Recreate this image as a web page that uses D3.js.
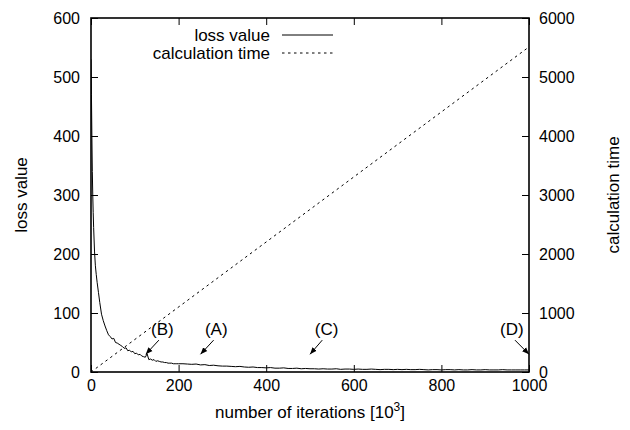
<!DOCTYPE html>
<html>
<head>
<meta charset="utf-8">
<script src="https://cdn.jsdelivr.net/npm/d3@7"></script>
<style>
    body { margin: 0; background: #fff; }
    text { font-family: "Liberation Sans", Arial, sans-serif; fill: #000; }
</style>
</head>
<body>
<script>
//loss value curve, iterations in 10^3
var lossIter = [0, 1, 2, 3, 4, 5, 6, 8, 10, 12, 14, 17, 20, 24, 28, 32, 36, 40, 44, 48,
    52, 56, 60, 64, 68, 72, 76, 80, 84, 88, 92, 96, 100, 104, 108, 112, 116, 120, 124, 128,
    132, 136, 140, 144, 148, 152, 156, 160, 164, 168, 172, 176, 180, 184, 188, 192, 196, 200,
    210, 220, 230, 240, 250, 260, 270, 280, 290, 300, 310, 320, 330, 340, 350, 360, 370, 380,
    390, 400, 410, 420, 430, 440, 450, 460, 470, 480, 490, 500, 510, 520, 530, 540, 550, 560,
    570, 580, 590, 600, 610, 620, 630, 640, 650, 660, 670, 680, 690, 700, 710, 720, 730, 740,
    750, 760, 770, 780, 790, 800, 810, 820, 830, 840, 850, 860, 870, 880, 890, 900, 910, 920,
    930, 940, 950, 960, 970, 980, 990, 1000];
var lossValue = [530, 470, 400, 340, 300, 270, 245, 205, 180, 165, 152, 135, 118, 98, 87, 78, 70, 63, 60, 56,
    57, 50, 49, 47, 45, 43, 40, 41, 36, 37, 34, 35, 31, 32, 29, 30, 27, 26, 25, 31,
    21, 22, 20, 21, 18, 19, 18, 17, 17, 16, 16, 15, 15, 15, 14, 14, 14, 14,
    14, 13.5, 13, 13.5, 12, 12.5, 11, 11.5, 10.5, 10, 10, 9.5, 9, 9.5, 8.5, 8, 8.5, 7.5,
    7.5, 7, 7.5, 6.5, 6.5, 7, 6, 6, 6.5, 5.5, 6, 5.5, 5.5, 5, 5.5, 5, 5, 5.5,
    4.5, 5, 5, 4.5, 5, 4.5, 4.5, 5, 4.5, 4, 4.5, 4.5, 4, 4.5, 4, 4.5, 4, 4,
    4.5, 4, 3.5, 4, 4, 3.5, 4, 4, 3.5, 4, 3.5, 3.5, 4, 3.5, 3.5, 4, 3.5, 3.5,
    3.5, 4, 3.5, 3.5, 3.5, 3.5, 3.5, 3.5];

//calculation time line
var timeIter = [0, 1000];
var timeValue = [0, 5510];

//tick labels
var xTicks = [0, 200, 400, 600, 800, 1000];
var yTicks = [0, 100, 200, 300, 400, 500, 600];
var y2Ticks = [0, 1000, 2000, 3000, 4000, 5000, 6000];

//annotations: label position and arrow from/to in data units
var noteLabels = ["(B)", "(A)", "(C)", "(D)"];
var noteLabelX = [163, 286, 538, 961];
var noteArrowFrom = [[155, 54], [280, 54], [528, 54], [968, 54]];
var noteArrowTo = [[125, 30], [250, 30], [500, 30], [1000, 30]];

var seriesNames = ["loss value", "calculation time"];

window.onload = drawChart();

function drawChart(){

    var width = 630,
        height = 430;

    var plot = {left: 91, right: 529, top: 18, bottom: 372};
    var fontSize = 17;

    var svg = d3.select("body")
        .append("svg")
        .attr("width", width)
        .attr("height", height);

    //scales
    var x = d3.scaleLinear().domain([0, 1000]).range([plot.left, plot.right]);
    var y = d3.scaleLinear().domain([0, 600]).range([plot.bottom, plot.top]);
    var y2 = d3.scaleLinear().domain([0, 6000]).range([plot.bottom, plot.top]);

    //arrow head
    svg.append("defs").append("marker")
        .attr("id", "head")
        .attr("viewBox", "0 0 10 10")
        .attr("refX", 10)
        .attr("refY", 5)
        .attr("markerWidth", 7)
        .attr("markerHeight", 7)
        .attr("markerUnits", "userSpaceOnUse")
        .attr("orient", "auto")
        .append("path")
        .attr("d", "M0,1 L10,5 L0,9 Z")
        .attr("fill", "#000");

    svg.append("clipPath")
        .attr("id", "clip")
        .append("rect")
        .attr("x", plot.left)
        .attr("y", plot.top)
        .attr("width", plot.right - plot.left)
        .attr("height", plot.bottom - plot.top);

    //axes with inward ticks
    var fmt = d3.format("d");

    svg.append("g")
        .attr("transform", "translate(0," + plot.bottom + ")")
        .call(d3.axisBottom(x).tickValues(xTicks).tickFormat(fmt).tickSize(-7).tickPadding(8))
        .call(styleAxis);

    svg.append("g")
        .attr("transform", "translate(0," + plot.top + ")")
        .call(d3.axisTop(x).tickValues(xTicks).tickSize(-7).tickFormat(""))
        .call(styleAxis);

    svg.append("g")
        .attr("transform", "translate(" + plot.left + ",0)")
        .call(d3.axisLeft(y).tickValues(yTicks).tickFormat(fmt).tickSize(-7).tickPadding(11))
        .call(styleAxis);

    svg.append("g")
        .attr("transform", "translate(" + plot.right + ",0)")
        .call(d3.axisRight(y2).tickValues(y2Ticks).tickFormat(fmt).tickSize(-7).tickPadding(10))
        .call(styleAxis);

    //lines
    var lossData = lossIter.map(function(d, i){ return [d, lossValue[i]]; });
    var timeData = timeIter.map(function(d, i){ return [d, timeValue[i]]; });

    svg.append("path")
        .datum(lossData)
        .attr("clip-path", "url(#clip)")
        .attr("fill", "none")
        .attr("stroke", "#000")
        .attr("stroke-width", 1)
        .attr("d", d3.line().x(function(d){ return x(d[0]); }).y(function(d){ return y(d[1]); }));

    svg.append("path")
        .datum(timeData)
        .attr("clip-path", "url(#clip)")
        .attr("fill", "none")
        .attr("stroke", "#000")
        .attr("stroke-width", 1)
        .attr("stroke-dasharray", "2.5,3.5")
        .attr("d", d3.line().x(function(d){ return x(d[0]); }).y(function(d){ return y2(d[1]); }));

    //border
    svg.append("rect")
        .attr("x", plot.left)
        .attr("y", plot.top)
        .attr("width", plot.right - plot.left)
        .attr("height", plot.bottom - plot.top)
        .attr("fill", "none")
        .attr("stroke", "#000")
        .attr("stroke-width", 1.6);

    //annotations
    noteLabels.forEach(function(label, i){
        svg.append("text")
            .attr("x", x(noteLabelX[i]))
            .attr("y", y(73) + 6)
            .attr("text-anchor", "middle")
            .attr("font-size", fontSize)
            .text(label);
        svg.append("line")
            .attr("x1", x(noteArrowFrom[i][0]))
            .attr("y1", y(noteArrowFrom[i][1]))
            .attr("x2", x(noteArrowTo[i][0]))
            .attr("y2", y(noteArrowTo[i][1]))
            .attr("stroke", "#000")
            .attr("stroke-width", 1)
            .attr("marker-end", "url(#head)");
    });

    //legend
    var legend = svg.append("g");
    seriesNames.forEach(function(name, i){
        var ly = 35 + i * 18;
        legend.append("text")
            .attr("x", 270)
            .attr("y", ly + 6)
            .attr("text-anchor", "end")
            .attr("font-size", fontSize)
            .text(name);
        legend.append("line")
            .attr("x1", 282)
            .attr("x2", 333)
            .attr("y1", ly)
            .attr("y2", ly)
            .attr("stroke", "#000")
            .attr("stroke-width", 1)
            .attr("stroke-dasharray", i == 1 ? "2.5,3.5" : null);
    });

    //axis titles
    var xTitle = svg.append("text")
        .attr("x", (plot.left + plot.right) / 2)
        .attr("y", 418)
        .attr("text-anchor", "middle")
        .attr("font-size", fontSize)
        .text("number of iterations [10");
    xTitle.append("tspan").attr("dy", -7).attr("font-size", 12).text("3");
    xTitle.append("tspan").attr("dy", 7).text("]");

    svg.append("text")
        .attr("transform", "translate(27,195) rotate(-90)")
        .attr("text-anchor", "middle")
        .attr("font-size", fontSize)
        .text("loss value");

    svg.append("text")
        .attr("transform", "translate(619,195) rotate(-90)")
        .attr("text-anchor", "middle")
        .attr("font-size", fontSize)
        .text("calculation time");

    function styleAxis(g){
        g.select(".domain").remove();
        g.selectAll(".tick line").attr("stroke", "#000").attr("stroke-width", 1);
        g.selectAll(".tick text")
            .attr("font-size", 16)
            .attr("font-family", "Liberation Sans, Arial, sans-serif")
            .attr("fill", "#000");
    }
}
</script>
</body>
</html>
